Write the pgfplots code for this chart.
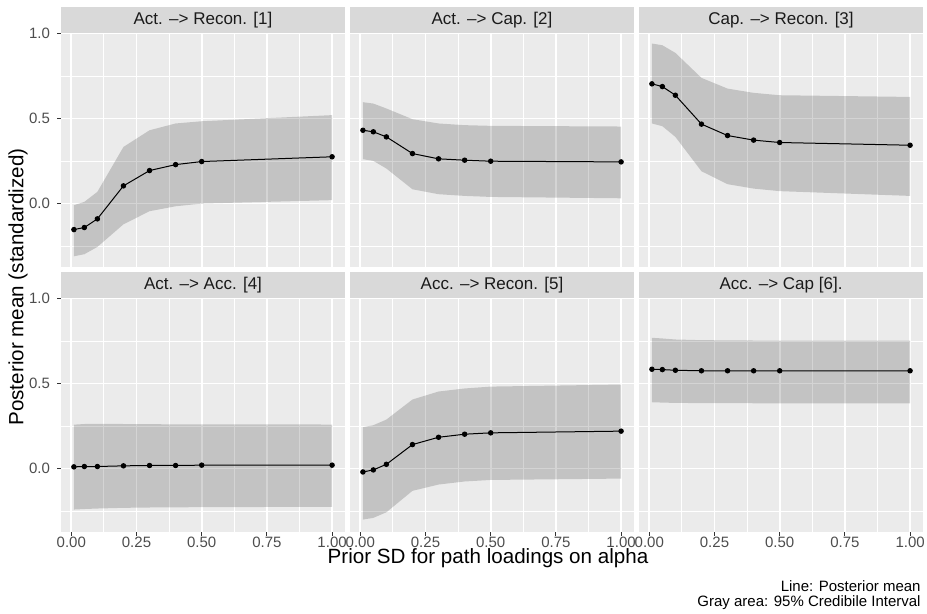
\documentclass[border=0pt]{standalone}
\usepackage{fontspec}
\setmainfont{Liberation Sans}
\usepackage{pgfplots}
\usepackage{pgfplotstable}
\pgfplotsset{compat=1.18}
\usepgfplotslibrary{fillbetween}

\definecolor{panelbg}{HTML}{EBEBEB}
\definecolor{stripbg}{HTML}{D9D9D9}
\definecolor{ticktext}{HTML}{4D4D4D}
\definecolor{tickline}{HTML}{333333}
\definecolor{striptext}{HTML}{1A1A1A}

% x = prior SD, mean = posterior mean, lo/hi = 95% interval
\pgfplotstableread{
x mean lo hi
0.01 -0.153 -0.310 -0.010
0.05 -0.141 -0.298 0.010
0.10 -0.090 -0.255 0.069
0.20 0.104 -0.122 0.333
0.30 0.194 -0.045 0.431
0.40 0.229 -0.016 0.471
0.50 0.247 0.000 0.484
1.00 0.275 0.020 0.520
}\tabA
\pgfplotstableread{
x mean lo hi
0.01 0.431 0.261 0.596
0.05 0.422 0.251 0.588
0.10 0.392 0.206 0.559
0.20 0.294 0.084 0.496
0.30 0.263 0.055 0.471
0.40 0.255 0.045 0.461
0.50 0.249 0.039 0.457
1.00 0.245 0.031 0.453
}\tabB
\pgfplotstableread{
x mean lo hi
0.01 0.704 0.471 0.941
0.05 0.688 0.455 0.931
0.10 0.637 0.392 0.886
0.20 0.467 0.190 0.739
0.30 0.400 0.114 0.676
0.40 0.373 0.088 0.651
0.50 0.359 0.073 0.637
1.00 0.343 0.045 0.627
}\tabC
\pgfplotstableread{
x mean lo hi
0.01 0.010 -0.241 0.258
0.05 0.012 -0.238 0.262
0.10 0.012 -0.235 0.263
0.20 0.016 -0.231 0.262
0.30 0.018 -0.229 0.261
0.40 0.018 -0.228 0.260
0.50 0.020 -0.227 0.260
1.00 0.020 -0.225 0.259
}\tabD
\pgfplotstableread{
x mean lo hi
0.01 -0.020 -0.300 0.243
0.05 -0.008 -0.290 0.255
0.10 0.025 -0.257 0.288
0.20 0.141 -0.131 0.406
0.30 0.184 -0.094 0.453
0.40 0.202 -0.076 0.471
0.50 0.210 -0.067 0.482
1.00 0.220 -0.059 0.494
}\tabE
\pgfplotstableread{
x mean lo hi
0.01 0.584 0.390 0.769
0.05 0.582 0.388 0.765
0.10 0.578 0.386 0.759
0.20 0.575 0.385 0.755
0.30 0.575 0.385 0.754
0.40 0.575 0.384 0.753
0.50 0.575 0.384 0.753
1.00 0.575 0.384 0.753
}\tabF

\pgfplotsset{
  facet/.style={
    scale only axis, width=142pt, height=117pt, anchor=south west,
    xmin=-0.0395, xmax=1.0495, ymin=-0.373, ymax=1.003,
    axis background/.style={fill=panelbg},
    axis line style={draw=none},
    xtick={0,0.25,0.5,0.75,1}, ytick={0,0.5,1},
    minor xtick={0.125,0.375,0.625,0.875}, minor ytick={-0.25,0.25,0.75},
    grid=both,
    major grid style={white, line width=0.9pt},
    minor grid style={white, line width=0.5pt},
    tick align=outside, major tick length=2pt, minor tick length=0pt,
    tick style={tickline, line width=0.5pt},
    xtick pos=bottom, ytick pos=left,
    tick label style={font=\fontsize{7.5}{9}\selectfont, text=ticktext},
    /pgf/number format/assume math mode=true,
    x tick label style={inner sep=0pt, yshift=-0.3pt, /pgf/number format/.cd, fixed, fixed zerofill, precision=2, /tikz/.cd},
    y tick label style={/pgf/number format/.cd, fixed, fixed zerofill, precision=1, /tikz/.cd},
  },
  noxlab/.style={xticklabels={}, xtick style={draw=none}},
  noylab/.style={yticklabels={}, ytick style={draw=none}},
}

\newcommand{\panel}[1]{%
  \addplot[name path=hi, draw=none, forget plot] table[x=x, y=hi] {#1};
  \addplot[name path=lo, draw=none, forget plot] table[x=x, y=lo] {#1};
  \addplot[fill=black, fill opacity=0.17, draw=none] fill between[of=hi and lo];
  \addplot[black, line width=0.5pt, mark=*, mark size=1.1pt] table[x=x, y=mean] {#1};
}
\newcommand{\strip}[2]{%
  \fill[stripbg] (#1.north west) rectangle ([yshift=13pt]#1.north east);
  \node[font=\fontsize{8.5}{10}\selectfont, text=striptext] at ([yshift=6.5pt]#1.north) {#2};
}

\begin{document}
\begin{tikzpicture}

\begin{axis}[facet, noxlab, name=p1, at={(30.5pt,173.5pt)}]
\panel{\tabA}
\end{axis}
\begin{axis}[facet, noxlab, noylab, name=p2, at={(175pt,173.5pt)}]
\panel{\tabB}
\end{axis}
\begin{axis}[facet, noxlab, noylab, name=p3, at={(319.5pt,173.5pt)}]
\panel{\tabC}
\end{axis}
\begin{axis}[facet, name=p4, at={(30.5pt,41pt)}]
\panel{\tabD}
\end{axis}
\begin{axis}[facet, noylab, name=p5, at={(175pt,41pt)}]
\panel{\tabE}
\end{axis}
\begin{axis}[facet, noylab, name=p6, at={(319.5pt,41pt)}]
\panel{\tabF}
\end{axis}

\strip{p1}{Act. –> Recon. [1]}
\strip{p2}{Act. –> Cap. [2]}
\strip{p3}{Cap. –> Recon. [3]}
\strip{p4}{Act. –> Acc. [4]}
\strip{p5}{Acc. –> Recon. [5]}
\strip{p6}{Acc. –> Cap [6].}

\node[rotate=90, font=\fontsize{10.3}{12}\selectfont] at (9pt,163.5pt) {Posterior mean (standardized)};
\node[anchor=base, inner sep=0pt, font=\fontsize{10.3}{12}\selectfont] at (244pt,25pt) {Prior SD for path loadings on alpha};
\node[anchor=base east, font=\fontsize{7.5}{9}\selectfont, inner sep=0pt] at (460.5pt,11pt) {Line: Posterior mean};
\node[anchor=base east, font=\fontsize{7.5}{9}\selectfont, inner sep=0pt] at (460.5pt,3.5pt) {Gray area: 95\% Credibile Interval};

\pgfresetboundingbox
\path[use as bounding box] (0,0) rectangle (463.5pt,307pt);
\end{tikzpicture}
\end{document}
